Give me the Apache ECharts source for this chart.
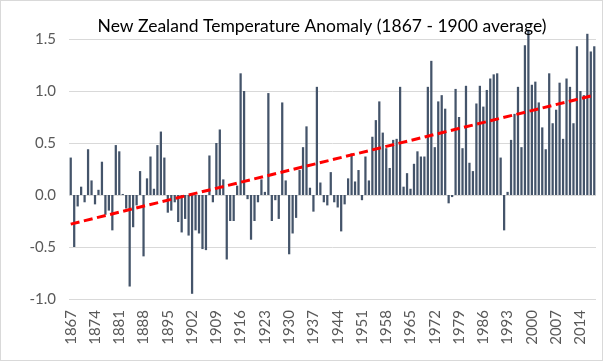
<!DOCTYPE html>
<html>
<head>
<meta charset="utf-8">
<script src="https://cdn.jsdelivr.net/npm/echarts@6/dist/echarts.min.js"></script>
<style>
  html, body { margin: 0; padding: 0; background: #ffffff; }
  #chart { width: 603px; height: 361px; box-sizing: border-box; border: 1px solid #d9d9d9; }
</style>
</head>
<body>
<div id="chart"></div>
<script>
// ---- data ----
const firstYear = 1867;
const anomalies = [
  // 1867-1876
  0.36, -0.50, -0.11, 0.08, -0.07, 0.44, 0.14, -0.09, 0.05, 0.32,
  // 1877-1886
  -0.19, -0.15, -0.34, 0.48, 0.42, 0.01, -0.13, -0.88, -0.31, -0.10,
  // 1887-1896
  0.23, -0.59, 0.16, 0.37, 0.06, 0.48, 0.61, 0.36, -0.17, -0.15,
  // 1897-1906
  -0.07, -0.26, -0.36, -0.23, -0.39, -0.95, -0.34, -0.37, -0.52, -0.53,
  // 1907-1916
  0.38, -0.07, 0.50, 0.63, 0.15, -0.62, -0.25, -0.25, 0.09, 1.17,
  // 1917-1926
  1.00, -0.04, -0.43, -0.25, -0.07, 0.15, 0.03, 0.98, -0.25, -0.05,
  // 1927-1936
  -0.23, 0.89, 0.14, -0.57, -0.37, -0.22, 0.24, 0.46, 0.66, 0.07,
  // 1937-1946
  -0.16, 1.04, 0.12, -0.07, -0.10, 0.22, -0.07, -0.12, -0.35, -0.09,
  // 1947-1956
  0.16, 0.40, 0.13, 0.24, -0.05, 0.37, 0.14, 0.56, 0.72, 0.90,
  // 1957-1966
  0.60, 0.45, 0.26, 0.53, 0.54, 1.04, 0.08, 0.21, 0.06, 0.30,
  // 1967-1976
  0.42, 0.37, 0.37, 1.04, 1.29, 0.46, 0.90, 0.96, 0.83, -0.08,
  // 1977-1986
  -0.02, 1.02, 0.75, 0.45, 1.05, 0.31, 0.23, 0.88, 1.05, 0.85,
  // 1987-1996
  1.01, 1.12, 1.16, 1.17, 0.36, -0.34, 0.03, 0.53, 0.78, 1.04,
  // 1997-2006
  0.46, 1.44, 1.59, 1.06, 1.09, 0.89, 0.65, 0.44, 1.17, 0.69,
  // 2007-2016
  0.82, 1.08, 0.54, 1.12, 1.04, 0.69, 1.43, 1.00, 0.96, 1.55,
  // 2017-2018
  1.38, 1.43
];
const trendStart = -0.28;   // trend line value at the first year
const trendEnd = 0.96;      // trend line value at the last year
const yTicks = [-1.0, -0.5, 0.0, 0.5, 1.0, 1.5];
const titleText = 'New Zealand Temperature Anomaly (1867 - 1900 average)';

// ---- build ----
const years = anomalies.map((_, i) => String(firstYear + i));
const trend = anomalies.map(() => null);
trend[0] = trendStart;
trend[trend.length - 1] = trendEnd;

const chart = echarts.init(document.getElementById('chart'), null, { renderer: 'canvas' });
chart.setOption({
  animation: false,
  textStyle: { fontFamily: 'Lato' },
  title: {
    text: titleText,
    left: 316, top: 11, textAlign: 'center',
    textStyle: { fontFamily: 'Lato', fontSize: 17.5, fontWeight: 'normal', color: '#000000' }
  },
  grid: { left: 68, right: 6, top: 38, bottom: 61, containLabel: false },
  xAxis: {
    type: 'category',
    data: years,
    axisLine: { show: false },
    axisTick: { show: false },
    axisLabel: {
      interval: 6, rotate: 90, margin: 11,
      fontFamily: 'Lato', fontSize: 15, color: '#595959'
    },
    splitLine: { show: false }
  },
  yAxis: {
    type: 'value',
    min: yTicks[0], max: yTicks[yTicks.length - 1], interval: 0.5,
    axisLine: { show: false },
    axisTick: { show: false },
    axisLabel: {
      margin: 13, fontFamily: 'Lato', fontSize: 15, color: '#595959',
      formatter: v => v.toFixed(1)
    },
    splitLine: { lineStyle: { color: '#d9d9d9', width: 1 } }
  },
  series: [
    {
      type: 'bar',
      data: anomalies,
      barCategoryGap: '35%',
      clip: false,
      itemStyle: { color: '#44546a' }
    },
    {
      type: 'line',
      data: trend,
      connectNulls: true,
      symbol: 'none',
      clip: false,
      lineStyle: { color: '#ff0000', width: 3, type: [9, 4.5] },
      z: 5
    }
  ]
});
</script>
</body>
</html>
